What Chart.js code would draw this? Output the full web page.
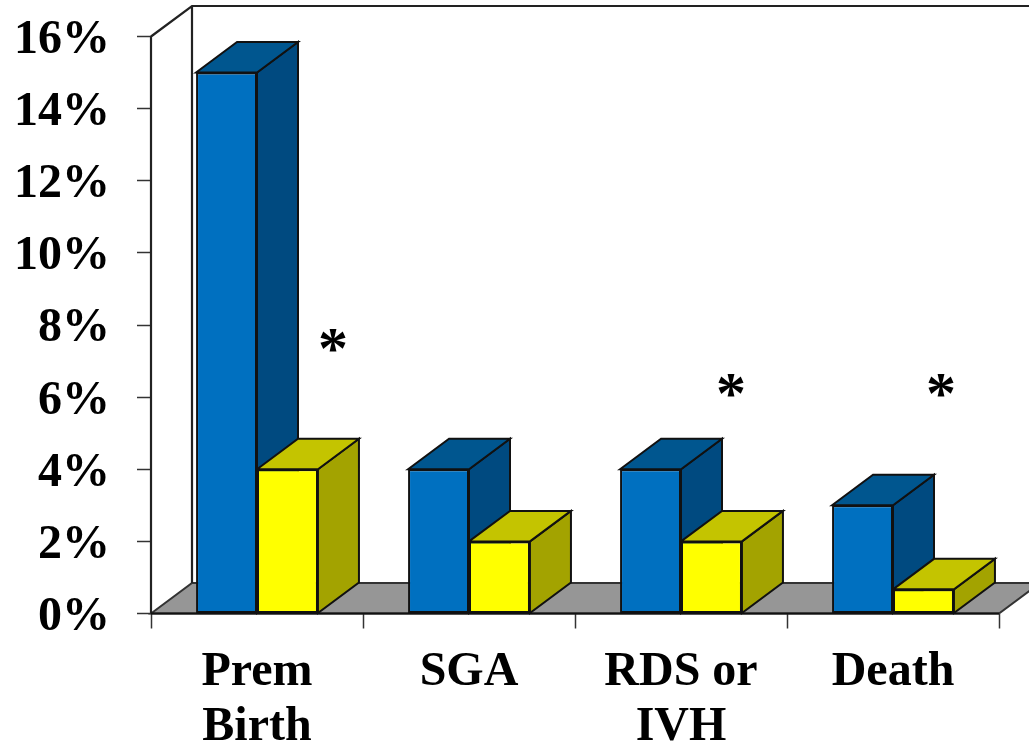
<!DOCTYPE html>
<html>
<head>
<meta charset="utf-8">
<style>html,body{margin:0;padding:0;background:#fff;overflow:hidden}canvas{display:block}</style>
<script src="https://cdn.jsdelivr.net/npm/chart.js@4/dist/chart.umd.min.js"></script>
</head>
<body>
<canvas id="c" width="1029" height="742"></canvas>
<script>
const categories = [["Prem","Birth"],["SGA"],["RDS or","IVH"],["Death"]];
const blueValues = [15, 4, 4, 3];
const yellowValues = [4, 2, 2, 0.67];
const starLabels = ["*", "", "*", "*"];
const starValues = [7.25, null, 5.98, 5.98];
const starOffsets = [76, 0, 50, 48];

const FONT = '"Liberation Serif", "Times New Roman", serif';
const DX = 41, DY = 30.5;
const LINE = '#111';

function poly(ctx, pts, fill, stroke, lw) {
  ctx.beginPath();
  pts.forEach((p, i) => i ? ctx.lineTo(p[0], p[1]) : ctx.moveTo(p[0], p[1]));
  ctx.closePath();
  if (fill) { ctx.fillStyle = fill; ctx.fill(); }
  if (stroke) { ctx.strokeStyle = stroke; ctx.lineWidth = lw; ctx.stroke(); }
}

const depth3d = {
  id: 'depth3d',
  beforeDatasetsDraw(chart) {
    const { ctx, chartArea: a } = chart;
    ctx.save();
    // floor
    poly(ctx, [[a.left, a.bottom], [a.left + DX, a.bottom - DY], [a.right + DX, a.bottom - DY], [a.right, a.bottom]], '#969696', '#333', 2);
    // walls
    ctx.strokeStyle = '#222'; ctx.lineWidth = 2.2;
    ctx.beginPath();
    ctx.moveTo(a.left, a.top); ctx.lineTo(a.left + DX, a.top - DY);
    ctx.lineTo(a.right + DX, a.top - DY);
    ctx.moveTo(a.left + DX, a.top - DY); ctx.lineTo(a.left + DX, a.bottom - DY);
    ctx.moveTo(a.left, a.top); ctx.lineTo(a.left, a.bottom);
    ctx.stroke();
    // bar depth faces
    const styles = [['#00568F', '#004A80'], ['#C4C400', '#A3A300']];
    chart.data.datasets.forEach((ds, di) => {
      chart.getDatasetMeta(di).data.forEach(bar => {
        const l = bar.x - bar.width / 2, r = bar.x + bar.width / 2, t = bar.y, b = bar.base;
        poly(ctx, [[r, t], [r + DX, t - DY], [r + DX, b - DY], [r, b]], styles[di][1], LINE, 2);
        poly(ctx, [[l, t], [l + DX, t - DY], [r + DX, t - DY], [r, t]], styles[di][0], LINE, 2);
      });
    });
    ctx.restore();
  },
  afterDatasetsDraw(chart) {
    const { ctx, scales } = chart;
    ctx.save();
    ctx.fillStyle = '#000';
    ctx.font = 'bold 60px ' + FONT;
    ctx.textAlign = 'center';
    ctx.textBaseline = 'middle';
    starLabels.forEach((s, i) => {
      if (s && starValues[i] != null) {
        ctx.fillText(s, scales.x.getPixelForTick(i) + starOffsets[i], scales.y.getPixelForValue(starValues[i]));
      }
    });
    // baseline on top of floor edge
    ctx.strokeStyle = LINE; ctx.lineWidth = 2;
    ctx.beginPath();
    ctx.moveTo(chart.chartArea.left, chart.chartArea.bottom);
    ctx.lineTo(chart.chartArea.right, chart.chartArea.bottom);
    ctx.stroke();
    ctx.restore();
  }
};

new Chart(document.getElementById('c'), {
  type: 'bar',
  data: {
    labels: categories,
    datasets: [
      { label: 'Blue', data: blueValues, backgroundColor: '#0070C0', borderColor: LINE, borderWidth: 2, borderSkipped: false },
      { label: 'Yellow', data: yellowValues, backgroundColor: '#FFFF00', borderColor: LINE, borderWidth: 2, borderSkipped: false }
    ]
  },
  options: {
    responsive: false,
    animation: false,
    layout: { padding: { top: 36.5, right: 30, left: 0, bottom: 0 } },
    plugins: { legend: { display: false }, tooltip: { enabled: false } },
    datasets: { bar: { categoryPercentage: 0.575, barPercentage: 1 } },
    scales: {
      x: {
        grid: { drawOnChartArea: false, drawTicks: true, tickLength: 15, tickColor: '#333', tickWidth: 1.5 },
        border: { display: false },
        ticks: { color: '#000', font: { family: FONT, size: 48, weight: 'bold', lineHeight: 1.15 }, padding: 16.5, maxRotation: 0, autoSkip: false },
        afterFit(s) { s.height = 128.5; s.paddingLeft = 0; s.paddingRight = 0; s.paddingTop = 0; s.paddingBottom = 0; }
      },
      y: {
        min: 0, max: 16,
        grid: { drawOnChartArea: false, drawTicks: true, tickLength: 14, tickColor: '#333', tickWidth: 1.5 },
        border: { display: false },
        ticks: { stepSize: 2, color: '#000', font: { family: FONT, size: 48, weight: 'bold' }, padding: 27, labelOffset: 4, callback: v => v + '%' },
        afterFit(s) { s.width = 151; s.paddingTop = 0; s.paddingBottom = 0; }
      }
    }
  },
  plugins: [depth3d]
});
</script>
</body>
</html>
